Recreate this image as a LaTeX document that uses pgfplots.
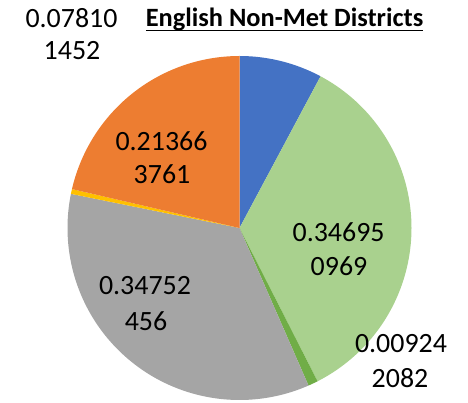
\documentclass[border=0pt]{standalone}
\usepackage{pgfplots}
\pgfplotsset{compat=1.18}
\usepackage{fontspec}
\setmainfont{Carlito}
\definecolor{cBlue}{HTML}{4472C4}
\definecolor{cLGreen}{HTML}{A9D18E}
\definecolor{cDGreen}{HTML}{70AD47}
\definecolor{cGray}{HTML}{A5A5A5}
\definecolor{cYellow}{HTML}{FFC000}
\definecolor{cOrange}{HTML}{ED7D31}
\newcommand\ul[1]{\setbox0\hbox{#1}\rlap{\rule[-4.5bp]{\wd0}{1.7bp}}\box0}
\begin{document}
\begin{tikzpicture}
\def\cx{239.5}\def\cy{175}\def\r{172}
% slice fractions (clockwise from top)
\def\fA{0.078101452}
\def\fB{0.346950969}
\def\fC{0.009242082}
\def\fD{0.34752456}
\def\fF{0.213663761}
\pgfmathsetmacro\aA{90}
\pgfmathsetmacro\aB{\aA-360*\fA}
\pgfmathsetmacro\aC{\aB-360*\fB}
\pgfmathsetmacro\aD{\aC-360*\fC}
\pgfmathsetmacro\aE{\aD-360*\fD}
\pgfmathsetmacro\aF{-270+360*\fF}
\pgfmathsetmacro\aG{-270}
\begin{axis}[width=468bp,height=403bp,scale only axis,
  xmin=0,xmax=468,ymin=0,ymax=403,hide axis,clip=false]
\addplot[fill=cBlue,draw=none,domain=\aB:\aA,samples=40] ({\cx+\r*cos(x)},{\cy+\r*sin(x)}) -- (axis cs:\cx,\cy) -- cycle;
\addplot[fill=cLGreen,draw=none,domain=\aC:\aB,samples=120] ({\cx+\r*cos(x)},{\cy+\r*sin(x)}) -- (axis cs:\cx,\cy) -- cycle;
\addplot[fill=cDGreen,draw=none,domain=\aD:\aC,samples=10] ({\cx+\r*cos(x)},{\cy+\r*sin(x)}) -- (axis cs:\cx,\cy) -- cycle;
\addplot[fill=cGray,draw=none,domain=\aE:\aD,samples=120] ({\cx+\r*cos(x)},{\cy+\r*sin(x)}) -- (axis cs:\cx,\cy) -- cycle;
\addplot[fill=cYellow,draw=none,domain=\aF:\aE,samples=6] ({\cx+\r*cos(x)},{\cy+\r*sin(x)}) -- (axis cs:\cx,\cy) -- cycle;
\addplot[fill=cOrange,draw=none,domain=\aG:\aF,samples=80] ({\cx+\r*cos(x)},{\cy+\r*sin(x)}) -- (axis cs:\cx,\cy) -- cycle;
\tikzset{lbl/.style={inner sep=0pt,font=\fontsize{28}{33}\selectfont}}
\node[lbl] at (axis cs:71.5,385) {0.07810};
\node[lbl] at (axis cs:72,352) {1452};
\node[lbl] at (axis cs:161.5,262) {0.21366};
\node[lbl] at (axis cs:162,229) {3761};
\node[lbl] at (axis cs:338.6,171) {0.34695};
\node[lbl] at (axis cs:339,137) {0969};
\node[lbl] at (axis cs:145,117) {0.34752};
\node[lbl] at (axis cs:146,82) {456};
\node[lbl] at (axis cs:401,59) {0.00924};
\node[lbl] at (axis cs:400,25) {2082};
\node[inner sep=0pt,anchor=base,font=\fontsize{26.5}{30}\selectfont\bfseries] at (axis cs:284.5,376) {\ul{English Non-Met Districts}};
\end{axis}
\pgfresetboundingbox
\path (current axis.south west) rectangle (current axis.north east);
\end{tikzpicture}
\end{document}
